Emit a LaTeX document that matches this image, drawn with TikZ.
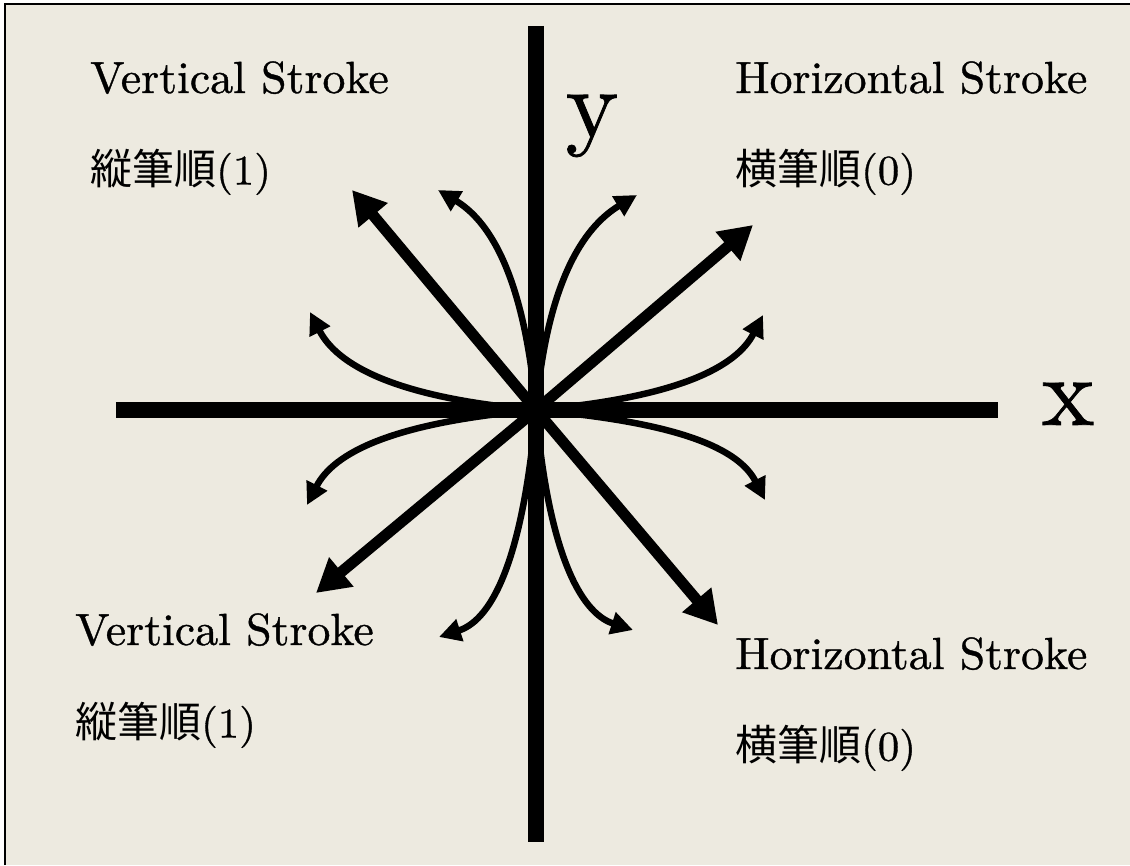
\documentclass[tikz,border=0pt]{standalone}
\usepackage{fontspec}
\newfontfamily\jpfont{Noto Sans CJK JP}
\newfontfamily\schfont{lmroman10-regular}[Extension=.otf, FakeStretch=1.02, FakeBold=0.8]
\usetikzlibrary{arrows.meta}
\definecolor{PaperBeige}{HTML}{EDEAE0}

\begin{document}
\begin{tikzpicture}[x=1pt, y=1pt,
  axisline/.style={line width=16pt},
  bigarrow/.style={line width=11pt, -{Triangle[length=33pt,width=36pt]}},
  curvearrow/.style={line width=6.5pt, -{Triangle[length=22pt,width=22pt]},
    out looseness=1.5, in looseness=0.6},
  strokelabel/.style={font=\schfont\fontsize{45}{54}\selectfont, inner sep=0pt, anchor=base west},
  orderlabel/.style={font=\schfont\fontsize{42}{50}\selectfont, inner sep=0pt, anchor=west},
  axislabel/.style={font=\schfont\fontsize{98}{118}\selectfont, inner sep=0pt, anchor=base}]
  \useasboundingbox (-536,-455) rectangle (594,410);
  \fill[white] (-536,-455) rectangle (594,410);
  \fill[PaperBeige] (-531,-455) rectangle (594,406);
  \draw[line width=2pt] (-531,-455) -- (-531,406) -- (594,406);

  % axes
  \coordinate (o) at (0,0);
  \coordinate (xl) at (-420,0);
  \coordinate (xr) at (462,0);
  \coordinate (yt) at (0,384);
  \coordinate (yb) at (0,-432);
  \draw[axisline] (xl) -- (xr);
  \draw[axisline] (yt) -- (yb);
  \node[axislabel] (xlab) at (532,-15) {x};
  \node[axislabel] (ylab) at (56,273) {y};

  % straight arrows
  \coordinate (ul) at (-184,220);
  \coordinate (ur) at (217,185);
  \coordinate (ll) at (-220,-183);
  \coordinate (lr) at (182,-215);
  \draw[bigarrow] (o) -- (ul);
  \draw[bigarrow] (o) -- (ur);
  \draw[bigarrow] (o) -- (ll);
  \draw[bigarrow] (o) -- (lr);

  % curved arrows
  \coordinate (upl) at (-98,220);
  \coordinate (upr) at (101,215);
  \coordinate (lfu) at (-226,98);
  \coordinate (rtu) at (227,95);
  \coordinate (lfd) at (-229,-95);
  \coordinate (rtd) at (229,-90);
  \coordinate (dnl) at (-97,-227);
  \coordinate (dnr) at (97,-220);
  \draw[curvearrow] (o) to[out=95,in=-31] (upl);
  \draw[curvearrow] (o) to[out=85,in=-149] (upr);
  \draw[curvearrow] (o) to[out=175,in=-63] (lfu);
  \draw[curvearrow] (o) to[out=5,in=-117] (rtu);
  \draw[curvearrow] (o) to[out=185,in=63] (lfd);
  \draw[curvearrow] (o) to[out=-5,in=117] (rtd);
  \draw[curvearrow] (o) to[out=-95,in=18] (dnl);
  \draw[curvearrow] (o) to[out=-85,in=162] (dnr);

  % labels
  \node[strokelabel] (vtop) at (-446,317) {Vertical Stroke};
  \node[orderlabel] (vtopjp) at (-446,238) {{\jpfont 縦筆順}(1)};
  \node[strokelabel] (htop) at (199,317) {Horizontal Stroke};
  \node[orderlabel] (htopjp) at (199,238) {{\jpfont 横筆順}(0)};
  \node[strokelabel] (vbot) at (-461,-235) {Vertical Stroke};
  \node[orderlabel] (vbotjp) at (-461,-315) {{\jpfont 縦筆順}(1)};
  \node[strokelabel] (hbot) at (199,-259) {Horizontal Stroke};
  \node[orderlabel] (hbotjp) at (199,-338) {{\jpfont 横筆順}(0)};
\end{tikzpicture}
\end{document}
